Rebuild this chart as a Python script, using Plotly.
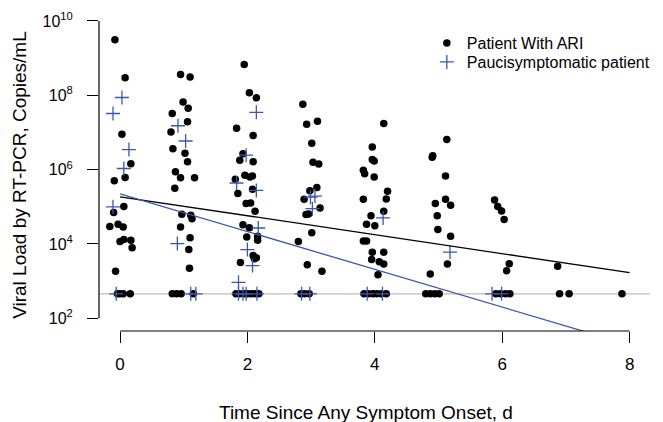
import plotly.graph_objects as go

# ---- data ----
# Patients with ARI: days since symptom onset (jittered) and log10 viral load
ari_days = [
    -0.08, 0.08, 0.03, 0.17, 0.08, -0.09, 0.06, -0.10, -0.16, -0.03, 0.05, 0.00, 0.06, 0.17, 0.19, -0.07,
    0.95, 1.10, 0.99, 1.07, 0.82, 1.06, 0.80, 0.83, 1.02, 1.06, 0.87, 0.95, 1.17, 0.86, 0.97, 1.11, 1.13, 0.95, 1.10, 1.08, 1.09,
    1.95, 2.03, 2.14, 1.83, 2.09, 1.93, 1.88, 2.09, 1.96, 2.04, 2.08, 1.81, 1.85, 2.08, 1.98, 2.05, 2.12, 1.93, 2.03, 1.99, 2.16, 2.16, 2.09, 2.14, 2.11, 1.89,
    2.87, 2.93, 3.10, 3.01, 3.03, 3.12, 2.98, 3.09, 2.89, 3.14, 2.92, 2.96, 3.01, 2.80, 2.94, 3.17,
    4.14, 3.96, 3.96, 3.99, 3.82, 3.84, 3.99, 4.20, 4.18, 3.82, 4.14, 3.94, 3.87, 4.00, 3.82, 3.87, 3.96, 4.14, 3.95, 4.07, 4.14, 4.05,
    5.13, 4.91, 4.90, 5.11, 5.11, 4.95, 5.19, 4.98, 4.99, 5.19, 5.14, 4.87,
    5.88, 5.93, 5.99, 6.03, 6.11, 6.07,
    6.87,
]
ari_log10_load = [
    9.49, 8.47, 6.95, 6.16, 5.79, 5.70, 5.01, 4.85, 4.47, 4.53, 4.46, 4.07, 4.12, 4.10, 3.90, 3.27,
    8.56, 8.49, 7.82, 7.65, 7.51, 7.29, 7.01, 6.56, 6.44, 6.21, 5.94, 5.78, 5.78, 5.50, 4.80, 4.77, 4.68, 4.46, 4.17, 3.85, 3.35,
    8.83, 8.07, 7.93, 7.11, 6.92, 6.43, 6.25, 6.21, 5.85, 5.80, 5.83, 5.74, 5.36, 5.47, 5.09, 5.10, 4.88, 4.52, 4.44, 4.19, 4.21, 4.10, 3.69, 3.63, 3.60, 3.50,
    7.76, 7.22, 7.30, 6.71, 6.20, 6.15, 5.43, 5.52, 5.20, 4.97, 4.79, 4.81, 4.30, 4.07, 3.44, 3.27,
    7.24, 6.61, 6.27, 6.23, 5.98, 5.89, 5.80, 5.42, 5.21, 5.20, 4.88, 4.76, 4.53, 4.49, 4.08, 4.08, 3.78, 3.78, 3.58, 3.52, 3.46, 3.17,
    6.81, 6.37, 6.33, 5.83, 5.20, 5.09, 5.04, 4.76, 4.39, 4.21, 3.46, 3.19,
    5.18, 5.01, 4.89, 4.66, 3.47, 3.28,
    3.40,
]
# ARI samples below detection (plotted at the detection limit)
ari_lod_days = [
    -0.04, 0.00, 0.05, 0.16,
    0.82, 0.89, 0.96, 1.15,
    1.82, 1.88, 1.95, 2.00, 2.06, 2.12, 2.18,
    2.84, 2.90, 2.97,
    3.83, 3.90, 3.97, 4.03, 4.10, 4.18,
    4.80, 4.87, 4.94, 5.01,
    5.90, 5.97, 6.05, 6.12,
    6.90, 7.05,
    7.88,
]

# Paucisymptomatic patients
pauci_days = [0.03, -0.11, 0.14, 0.06, -0.11,
              0.91, 1.03, 0.90,
              2.14, 1.98, 1.83, 2.14, 2.17, 2.00, 2.08, 1.86,
              2.99, 3.06, 3.02,
              4.13,
              5.18]
pauci_log10_load = [7.94, 7.51, 6.54, 6.03, 5.00,
                    7.18, 6.77, 4.01,
                    7.54, 6.39, 5.64, 5.44, 4.43, 3.85, 3.42, 2.97,
                    5.26, 5.29, 4.95,
                    4.70,
                    3.78]
pauci_lod_days = [-0.06, 1.11, 1.19, 1.86, 1.93, 1.98, 2.15, 2.85, 2.98, 3.88, 4.12, 5.84, 5.99]

detection_limit = 457  # copies/mL

# regression fits: log10(load) = intercept + slope * day
ari_fit = {"intercept": 5.27, "slope": -0.255}
pauci_fit = {"intercept": 5.35, "slope": -0.508}
fit_days = [0, 8]

x_ticks = [0, 2, 4, 6, 8]
y_tick_exponents = [2, 4, 6, 8, 10]

# ---- figure ----
BLUE = "#3B58B0"
FONT = "Liberation Sans, Arial, Helvetica, sans-serif"

ari_x = ari_days + ari_lod_days
ari_y = [10 ** v for v in ari_log10_load] + [detection_limit] * len(ari_lod_days)
pauci_x = pauci_days + pauci_lod_days
pauci_y = [10 ** v for v in pauci_log10_load] + [detection_limit] * len(pauci_lod_days)

fig = go.Figure()
fig.add_trace(go.Scatter(
    x=ari_x, y=ari_y, mode="markers", name="Patient With ARI", legend="legend",
    marker=dict(symbol="circle", size=7.5, color="black", line=dict(width=0)),
))
fig.add_trace(go.Scatter(
    x=pauci_x, y=pauci_y, mode="markers", name="Paucisymptomatic patient", legend="legend2",
    marker=dict(symbol="cross-thin", size=10, color=BLUE, line=dict(width=1.3, color=BLUE)),
))
fig.add_trace(go.Scatter(
    x=fit_days, y=[10 ** (ari_fit["intercept"] + ari_fit["slope"] * d) for d in fit_days],
    mode="lines", line=dict(color="black", width=1.3), showlegend=False, hoverinfo="skip",
))
fig.add_trace(go.Scatter(
    x=fit_days, y=[10 ** (pauci_fit["intercept"] + pauci_fit["slope"] * d) for d in fit_days],
    mode="lines", line=dict(color=BLUE, width=1.3), showlegend=False, hoverinfo="skip",
))

# detection limit line
fig.add_shape(type="line", xref="paper", x0=0, x1=1, yref="y", y0=detection_limit, y1=detection_limit,
              line=dict(color="#BEBEBE", width=1.2), layer="below")
# axis spines (R style, spanning only the tick range)
fig.add_shape(type="line", xref="paper", x0=0, x1=0, yref="y",
              y0=10 ** y_tick_exponents[0], y1=10 ** y_tick_exponents[-1],
              line=dict(color="black", width=1.2))
fig.add_shape(type="line", xref="x", x0=x_ticks[0], x1=x_ticks[-1], yref="paper", y0=0, y1=0,
              line=dict(color="black", width=1.2))

fig.update_xaxes(
    range=[-0.33, 8.32], tickmode="array", tickvals=x_ticks, ticktext=[str(t) for t in x_ticks],
    ticks="outside", ticklen=11, tickwidth=1.2, tickcolor="black",
    showline=False, showgrid=False, zeroline=False, automargin=False,
    tickfont=dict(family=FONT, size=17, color="black"), ticklabelstandoff=7,
)
fig.update_yaxes(
    type="log", range=[1.66, 10.32], tickmode="array",
    tickvals=[10 ** e for e in y_tick_exponents],
    ticktext=[f"10<sup>{e}</sup>" for e in y_tick_exponents],
    ticks="outside", ticklen=11, tickwidth=1.2, tickcolor="black",
    showline=False, showgrid=False, zeroline=False, automargin=False,
    tickfont=dict(family=FONT, size=16, color="black"), ticklabelstandoff=11,
)

fig.add_annotation(text="Viral Load by RT-PCR, Copies/mL", xref="paper", yref="paper",
                   x=0, y=0.485, xshift=-79, textangle=-90, showarrow=False,
                   xanchor="center", yanchor="middle",
                   font=dict(family=FONT, size=19, color="black"))
fig.add_annotation(text="Time Since Any Symptom Onset, d", xref="paper", yref="paper",
                   x=0.485, y=0, yshift=-81, showarrow=False,
                   xanchor="center", yanchor="middle",
                   font=dict(family=FONT, size=19, color="black"))

legend_style = dict(xanchor="left", yanchor="top", bgcolor="rgba(0,0,0,0)", borderwidth=0,
                    font=dict(family=FONT, size=16, color="black"), itemwidth=30)
fig.update_layout(
    width=663, height=422,
    margin=dict(l=99, r=13, t=9, b=91, autoexpand=False),
    paper_bgcolor="white", plot_bgcolor="white",
    font=dict(family=FONT, color="black"),
    legend=dict(x=0.595, y=0.947, **legend_style),
    legend2=dict(x=0.595, y=0.888, **legend_style),
    showlegend=True,
)

fig.write_html("out.html", config={"displayModeBar": False},
               post_script="document.body.style.margin='0';")
